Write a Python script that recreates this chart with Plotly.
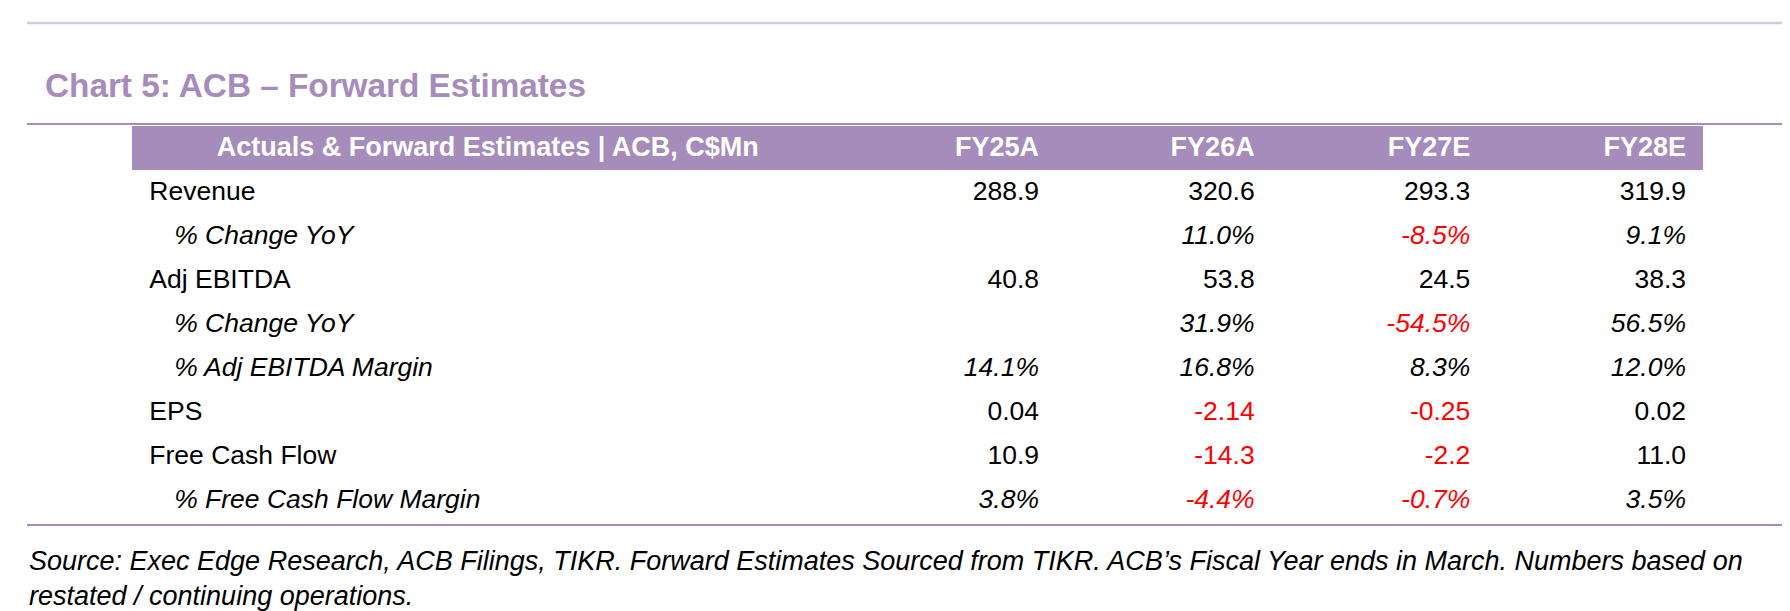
import plotly.graph_objects as go

W, H = 1790, 611

years = ["FY25A", "FY26A", "FY27E", "FY28E"]
header_title = "Actuals & Forward Estimates | ACB, C$Mn"
row_labels = ["Revenue", "% Change YoY", "Adj EBITDA", "% Change YoY",
              "% Adj EBITDA Margin", "EPS", "Free Cash Flow", "% Free Cash Flow Margin"]
revenue = [288.9, 320.6, 293.3, 319.9]
revenue_yoy = [None, 11.0, -8.5, 9.1]
adj_ebitda = [40.8, 53.8, 24.5, 38.3]
ebitda_yoy = [None, 31.9, -54.5, 56.5]
ebitda_margin = [14.1, 16.8, 8.3, 12.0]
eps = [0.04, -2.14, -0.25, 0.02]
fcf = [10.9, -14.3, -2.2, 11.0]
fcf_margin = [3.8, -4.4, -0.7, 3.5]

# (series, decimals, is_pct)
rows = [(revenue, 1, False), (revenue_yoy, 1, True), (adj_ebitda, 1, False),
        (ebitda_yoy, 1, True), (ebitda_margin, 1, True), (eps, 2, False),
        (fcf, 1, False), (fcf_margin, 1, True)]

purple = "rgb(166,140,186)"
light_purple = "rgb(215,200,225)"
font = "Liberation Sans, Arial, sans-serif"

# grid geometry: one x unit = one year column, one y unit = one table row
col_step, col1_px = 215.67, 1031      # px per column, right edge of FY25A figures
row_step, row0_px = 44, 185           # px per row, centre of first row
x_left = 1 - col1_px / col_step
y_top = -row0_px / row_step
label_x, sub_label_x, title_x = -3.125, -3.01, -1.556


def px(x):
    return x / W


def py(y):
    return 1 - y / H


fig = go.Figure()

# header bar (drawn under the text)
fig.add_shape(type="rect", xref="paper", yref="paper", x0=px(124), x1=px(1695),
              y0=py(162), y1=py(118), fillcolor=purple, line_width=0, layer="below")

# header text
fig.add_trace(go.Scatter(x=[title_x], y=[-1], mode="text", text=["<b>" + header_title + "</b>"],
                         textposition="middle center", cliponaxis=False, hoverinfo="skip",
                         textfont=dict(family=font, size=27, color="white")))
fig.add_trace(go.Scatter(x=list(range(1, len(years) + 1)), y=[-1] * len(years), mode="text",
                         text=["<b>" + y + "</b>" for y in years], textposition="middle left",
                         cliponaxis=False, hoverinfo="skip",
                         textfont=dict(family=font, size=27, color="white")))

# row labels
lx, ly, lt = [], [], []
for i, (lab, (_, _, pct)) in enumerate(zip(row_labels, rows)):
    lx.append(sub_label_x if pct else label_x)
    ly.append(i)
    lt.append("<i>" + lab + "</i>" if pct else lab)
fig.add_trace(go.Scatter(x=lx, y=ly, mode="text", text=lt, textposition="middle right",
                         cliponaxis=False, hoverinfo="skip",
                         textfont=dict(family=font, size=26.5, color="black")))

# figures
vx, vy, vt, vc = [], [], [], []
for i, (series, dec, pct) in enumerate(rows):
    for j, v in enumerate(series):
        if v is None:
            continue
        s = f"{v:.{dec}f}" + ("%" if pct else "")
        vx.append(j + 1)
        vy.append(i)
        vt.append("<i>" + s + "</i>" if pct else s)
        vc.append("red" if v < 0 else "black")
fig.add_trace(go.Scatter(x=vx, y=vy, mode="text", text=vt, textposition="middle left",
                         cliponaxis=False, hoverinfo="skip",
                         textfont=dict(family=font, size=26.5, color=vc)))

# rules
fig.add_shape(type="line", xref="paper", yref="paper", x0=px(19), x1=px(1778),
              y0=py(15), y1=py(15), line=dict(color=light_purple, width=2.5))
fig.add_shape(type="line", xref="paper", yref="paper", x0=px(19), x1=px(1778),
              y0=py(116), y1=py(116), line=dict(color=purple, width=2))
fig.add_shape(type="line", xref="paper", yref="paper", x0=px(19), x1=px(1778),
              y0=py(517), y1=py(517), line=dict(color=purple, width=2))

fig.add_annotation(text="<b>Chart 5: ACB – Forward Estimates</b>", xref="paper", yref="paper",
                   x=px(35), y=py(78), xanchor="left", yanchor="middle", showarrow=False,
                   font=dict(family=font, size=33.3, color=purple))
fig.add_annotation(text="<i>Source: Exec Edge Research, ACB Filings, TIKR. Forward Estimates Sourced from TIKR. "
                        "ACB’s Fiscal Year ends in March. Numbers based on<br>restated / continuing operations.</i>",
                   xref="paper", yref="paper", x=px(19), y=py(570), xanchor="left", yanchor="middle",
                   align="left", showarrow=False, font=dict(family=font, size=27, color="black"))

fig.update_xaxes(range=[x_left, x_left + W / col_step], visible=False, fixedrange=True)
fig.update_yaxes(range=[y_top + H / row_step, y_top], visible=False, fixedrange=True)
fig.update_layout(width=W, height=H, margin=dict(l=0, r=0, t=0, b=0), showlegend=False,
                  paper_bgcolor="white", plot_bgcolor="white")
fig.write_html("out.html")
